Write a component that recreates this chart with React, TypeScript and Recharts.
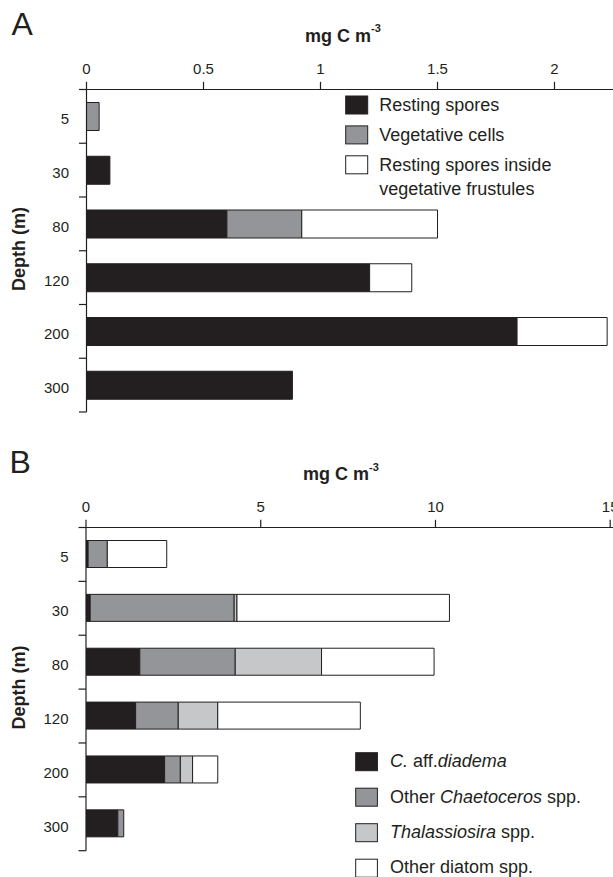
import React from 'react';
import { BarChart, Bar, XAxis, YAxis } from 'recharts';

// ---------- data ----------
const depths = ['5', '30', '80', '120', '200', '300'];

// Panel A (mg C m-3)
const restingSpores = [0, 0.1, 0.6, 1.21, 1.84, 0.88];
const vegetativeCells = [0.054, 0, 0.32, 0, 0, 0];
const sporesInsideFrustules = [0, 0, 0.58, 0.18, 0.385, 0];
const ticksA = [0, 0.5, 1, 1.5, 2];

// Panel B (mg C m-3)
const cDiadema = [0.06, 0.12, 1.54, 1.42, 2.25, 0.91];
const otherChaetoceros = [0.55, 4.12, 2.73, 1.22, 0.45, 0.17];
const thalassiosira = [0, 0.08, 2.47, 1.13, 0.35, 0];
const otherDiatoms = [1.7, 6.08, 3.22, 4.08, 0.72, 0];
const ticksB = [0, 5, 10, 15];

const legendA = ['Resting spores', 'Vegetative cells', 'Resting spores inside'];

// ---------- styles ----------
const INK = '#231f20';
const BLACK = '#231f20';
const GREY = '#939598';
const LIGHT = '#c6c7c9';
const WHITE = '#ffffff';
const FONT = '"Liberation Sans", Arial, Helvetica, sans-serif';

const rowsA = depths.map((d, i) => ({
  depth: d,
  resting: restingSpores[i],
  veg: vegetativeCells[i],
  inside: sporesInsideFrustules[i],
}));

const rowsB = depths.map((d, i) => ({
  depth: d,
  diadema: cDiadema[i],
  chaet: otherChaetoceros[i],
  thal: thalassiosira[i],
  other: otherDiatoms[i],
}));

const CH_W = 613;
const CH_H = 430;

function makeDepthTick(plotLeft: number, plotTop: number, plotBottom: number) {
  const band = (plotBottom - plotTop) / depths.length;
  return (props: any) => {
    const { x, y, payload, index } = props;
    return (
      <g>
        <text x={x} y={y} dy={8} textAnchor="end" fontSize={15} fill={INK} fontFamily={FONT}>
          {payload.value}
        </text>
        <line x1={plotLeft - 7.5} x2={plotLeft} y1={y + band / 2} y2={y + band / 2} stroke={INK} strokeWidth={1.2} />
        {index === 0 && (
          <line x1={plotLeft - 7.5} x2={plotLeft} y1={y - band / 2} y2={y - band / 2} stroke={INK} strokeWidth={1.2} />
        )}
      </g>
    );
  };
}

const A_LEFT = 86.5;
const A_TOP = 89.5;
const A_BOTTOM = 412;
const B_LEFT = 86;
const B_TOP = 87.5;
const B_BOTTOM = 410.7;

const tickA = makeDepthTick(A_LEFT, A_TOP, A_BOTTOM);
const tickB = makeDepthTick(B_LEFT, B_TOP, B_BOTTOM);

const xTickStyle = { fontSize: 15, fill: INK, fontFamily: FONT };

function PanelA() {
  return (
    <BarChart
      width={CH_W}
      height={CH_H}
      layout="vertical"
      data={rowsA}
      barSize={28}
      margin={{ top: A_TOP - 30, right: 0, bottom: CH_H - A_BOTTOM, left: 0 }}
    >
      <XAxis
        type="number"
        orientation="top"
        domain={[0, 2.25]}
        ticks={ticksA}
        interval={0}
        allowDataOverflow
        height={30}
        tickSize={7.7}
        tickMargin={8}
        axisLine={{ stroke: INK, strokeWidth: 1.2 }}
        tickLine={{ stroke: INK, strokeWidth: 1.2 }}
        tick={xTickStyle}
      />
      <YAxis
        type="category"
        dataKey="depth"
        width={A_LEFT}
        interval={0}
        tickLine={false}
        tickSize={7.5}
        tickMargin={10}
        axisLine={{ stroke: INK, strokeWidth: 1.2 }}
        tick={tickA}
      />
      <Bar dataKey="resting" stackId="a" fill={BLACK} stroke={INK} strokeWidth={1} isAnimationActive={false} />
      <Bar dataKey="veg" stackId="a" fill={GREY} stroke={INK} strokeWidth={1} isAnimationActive={false} />
      <Bar dataKey="inside" stackId="a" fill={WHITE} stroke={INK} strokeWidth={1} isAnimationActive={false} />
    </BarChart>
  );
}

function PanelB() {
  return (
    <BarChart
      width={CH_W}
      height={CH_H}
      layout="vertical"
      data={rowsB}
      barSize={27}
      margin={{ top: B_TOP - 30, right: 0, bottom: CH_H - B_BOTTOM, left: 0 }}
    >
      <XAxis
        type="number"
        orientation="top"
        domain={[0, 15.08]}
        ticks={ticksB}
        interval={0}
        allowDataOverflow
        height={30}
        tickSize={7.7}
        tickMargin={8}
        axisLine={{ stroke: INK, strokeWidth: 1.2 }}
        tickLine={{ stroke: INK, strokeWidth: 1.2 }}
        tick={xTickStyle}
      />
      <YAxis
        type="category"
        dataKey="depth"
        width={B_LEFT}
        interval={0}
        tickLine={false}
        tickSize={7.5}
        tickMargin={10}
        axisLine={{ stroke: INK, strokeWidth: 1.2 }}
        tick={tickB}
      />
      <Bar dataKey="diadema" stackId="b" fill={BLACK} stroke={INK} strokeWidth={1} isAnimationActive={false} />
      <Bar dataKey="chaet" stackId="b" fill={GREY} stroke={INK} strokeWidth={1} isAnimationActive={false} />
      <Bar dataKey="thal" stackId="b" fill={LIGHT} stroke={INK} strokeWidth={1} isAnimationActive={false} />
      <Bar dataKey="other" stackId="b" fill={WHITE} stroke={INK} strokeWidth={1} isAnimationActive={false} />
    </BarChart>
  );
}

function Overlay() {
  const swA = [BLACK, GREY, WHITE];
  const swB = [BLACK, GREY, LIGHT, WHITE];
  return (
    <svg
      width={CH_W}
      height={877}
      style={{ position: 'absolute', left: 0, top: 0, pointerEvents: 'none' }}
      fontFamily={FONT}
      fill={INK}
    >
      {/* panel letters */}
      <text x={11.5} y={35} fontSize={32}>A</text>
      <text x={9.5} y={472.7} fontSize={32}>B</text>

      {/* axis titles */}
      <text x={305} y={41.7} fontSize={18} fontWeight="bold">
        mg C m<tspan fontSize={11} dy={-9.4}>-3</tspan>
      </text>
      <text x={303} y={480} fontSize={18} fontWeight="bold">
        mg C m<tspan fontSize={11} dy={-9.4}>-3</tspan>
      </text>

      <text transform="translate(24.7,249) rotate(-90)" textAnchor="middle" fontSize={18} fontWeight="bold">
        Depth (m)
      </text>
      <text transform="translate(24.7,687.5) rotate(-90)" textAnchor="middle" fontSize={18} fontWeight="bold">
        Depth (m)
      </text>

      {/* legend A */}
      {swA.map((c, i) => (
        <rect key={'ra' + i} x={345.7} y={96 + i * 29.9} width={22} height={18} fill={c} stroke={INK} strokeWidth={1} />
      ))}
      {legendA.map((t, i) => (
        <text key={'ta' + i} x={379.3} y={111 + i * 30} fontSize={18}>{t}</text>
      ))}
      <text x={379.3} y={195} fontSize={18}>vegetative frustules</text>

      {/* legend B */}
      {swB.map((c, i) => (
        <rect key={'rb' + i} x={355.7} y={752.7 + i * 35.5} width={21.7} height={18} fill={c} stroke={INK} strokeWidth={1} />
      ))}
      <text x={390} y={767} fontSize={18}>
        <tspan fontStyle="italic">C.</tspan> aff.<tspan fontStyle="italic">diadema</tspan>
      </text>
      <text x={390} y={802.5} fontSize={18}>
        Other <tspan fontStyle="italic">Chaetoceros</tspan> spp.
      </text>
      <text x={390} y={837.8} fontSize={18}>
        <tspan fontStyle="italic">Thalassiosira</tspan> spp.
      </text>
      <text x={390} y={873} fontSize={18}>Other diatom spp.</text>
    </svg>
  );
}

export default function App() {
  return (
    <div
      style={{
        position: 'absolute',
        left: 0,
        top: 0,
        width: CH_W,
        height: 877,
        overflow: 'hidden',
        background: '#ffffff',
      }}
    >
      <div style={{ position: 'absolute', left: 0, top: 0 }}>
        <PanelA />
      </div>
      <div style={{ position: 'absolute', left: 0, top: 440 }}>
        <PanelB />
      </div>
      <Overlay />
    </div>
  );
}
